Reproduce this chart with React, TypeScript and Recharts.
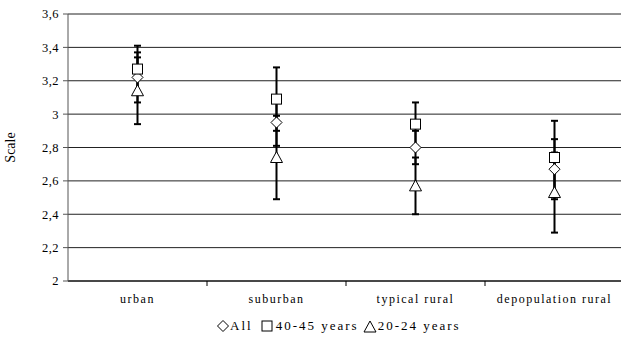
import React from 'react';
import { ComposedChart, Scatter, XAxis, YAxis, CartesianGrid, ErrorBar, Legend } from 'recharts';

const categories = ['urban', 'suburban', 'typical rural', 'depopulation rural'];
const allMean = [3.22, 2.95, 2.8, 2.67];
const allErr = [0.15, 0.14, 0.1, 0.18];
const m4045Mean = [3.27, 3.09, 2.94, 2.74];
const m4045Err = [0.14, 0.19, 0.13, 0.22];
const m2024Mean = [3.14, 2.74, 2.57, 2.53];
const m2024Err = [0.2, 0.25, 0.17, 0.24];
const yTicks = [2, 2.2, 2.4, 2.6, 2.8, 3, 3.2, 3.4, 3.6];

const data = categories.map((c, i) => ({
  cat: c,
  all: allMean[i],
  allE: allErr[i],
  a: m4045Mean[i],
  aE: m4045Err[i],
  b: m2024Mean[i],
  bE: m2024Err[i],
}));

const FONT = "'Liberation Serif', 'DejaVu Serif', 'Times New Roman', Times, serif";

const Diamond = (p: any) => (
  <path d={`M${p.cx},${p.cy - 5.5} L${p.cx + 5.5},${p.cy} L${p.cx},${p.cy + 5.5} L${p.cx - 5.5},${p.cy} Z`} fill="#fff" stroke="#000" strokeWidth={1} />
);
const Square = (p: any) => (
  <rect x={p.cx - 5} y={p.cy - 5} width={10} height={10} fill="#fff" stroke="#000" strokeWidth={1} />
);
const Triangle = (p: any) => (
  <path d={`M${p.cx},${p.cy - 6} L${p.cx + 6},${p.cy + 5} L${p.cx - 6},${p.cy + 5} Z`} fill="#fff" stroke="#000" strokeWidth={1} />
);
const Nothing = () => <g />;

const XTick = (props: any) => {
  const { x, y, payload } = props;
  return (
    <g>
      <line x1={x + 69.5} y1={y - 8} x2={x + 69.5} y2={y - 3} stroke="#000" strokeWidth={1} />
      <text x={x} y={y + 14} textAnchor="middle" fontFamily={FONT} fontSize={12} letterSpacing={1.5} fill="#000">
        {payload.value}
      </text>
    </g>
  );
};

const LegendContent = () => (
  <div style={{ display: 'flex', justifyContent: 'flex-start', alignItems: 'center', height: 20, paddingTop: 7, paddingLeft: 217, fontFamily: FONT, fontSize: 13, letterSpacing: 2, color: '#000' }}>
    <svg width={12} height={12} style={{ marginRight: 1 }}><Diamond cx={6} cy={6} /></svg>
    <span style={{ marginRight: 8 }}>All</span>
    <svg width={12} height={12} style={{ marginRight: 3 }}><Square cx={6} cy={6} /></svg>
    <span style={{ marginRight: 4 }}>40-45 years</span>
    <svg width={14} height={13} style={{ marginRight: 1 }}><Triangle cx={7} cy={7} /></svg>
    <span>20-24 years</span>
  </div>
);

export default function App() {
  return (
    <div style={{ position: 'absolute', left: 0, top: 0, width: 621, height: 338, overflow: 'hidden', background: '#fff' }}>
      <ComposedChart width={630} height={338} data={data} margin={{ top: 14, right: 6, bottom: 9, left: 0 }}>
        <CartesianGrid vertical={false} stroke="#222" strokeWidth={1} />
        <XAxis dataKey="cat" type="category" scale="band" height={28} axisLine={{ stroke: '#000' }} tickLine={false} tick={<XTick />} interval={0} />
        <YAxis
          domain={[2, 3.6]}
          ticks={yTicks}
          width={68}
          axisLine={{ stroke: '#555' }}
          tickLine={{ stroke: '#555' }}
          tickSize={5}
          tickMargin={4}
          tickFormatter={(v: number) => String(v).replace('.', ',')}
          tick={{ fontFamily: FONT, fontSize: 12.5, fill: '#000', letterSpacing: 0.5 }}
          label={{ value: 'Scale', angle: -90, position: 'insideLeft', offset: 10, style: { fontFamily: FONT, fontSize: 14, fill: '#000', textAnchor: 'middle' } }}
        />
        <Legend verticalAlign="bottom" height={20} content={<LegendContent />} />
        <Scatter dataKey="all" shape={<Nothing />} isAnimationActive={false} legendType="none">
          <ErrorBar dataKey="allE" direction="y" width={3.5} stroke="#000" strokeWidth={2} />
        </Scatter>
        <Scatter dataKey="a" shape={<Nothing />} isAnimationActive={false} legendType="none">
          <ErrorBar dataKey="aE" direction="y" width={3.5} stroke="#000" strokeWidth={2} />
        </Scatter>
        <Scatter dataKey="b" shape={<Nothing />} isAnimationActive={false} legendType="none">
          <ErrorBar dataKey="bE" direction="y" width={3.5} stroke="#000" strokeWidth={2} />
        </Scatter>
        <Scatter dataKey="all" name="All" shape={<Diamond />} isAnimationActive={false} />
        <Scatter dataKey="a" name="40-45 years" shape={<Square />} isAnimationActive={false} />
        <Scatter dataKey="b" name="20-24 years" shape={<Triangle />} isAnimationActive={false} />
      </ComposedChart>
    </div>
  );
}
